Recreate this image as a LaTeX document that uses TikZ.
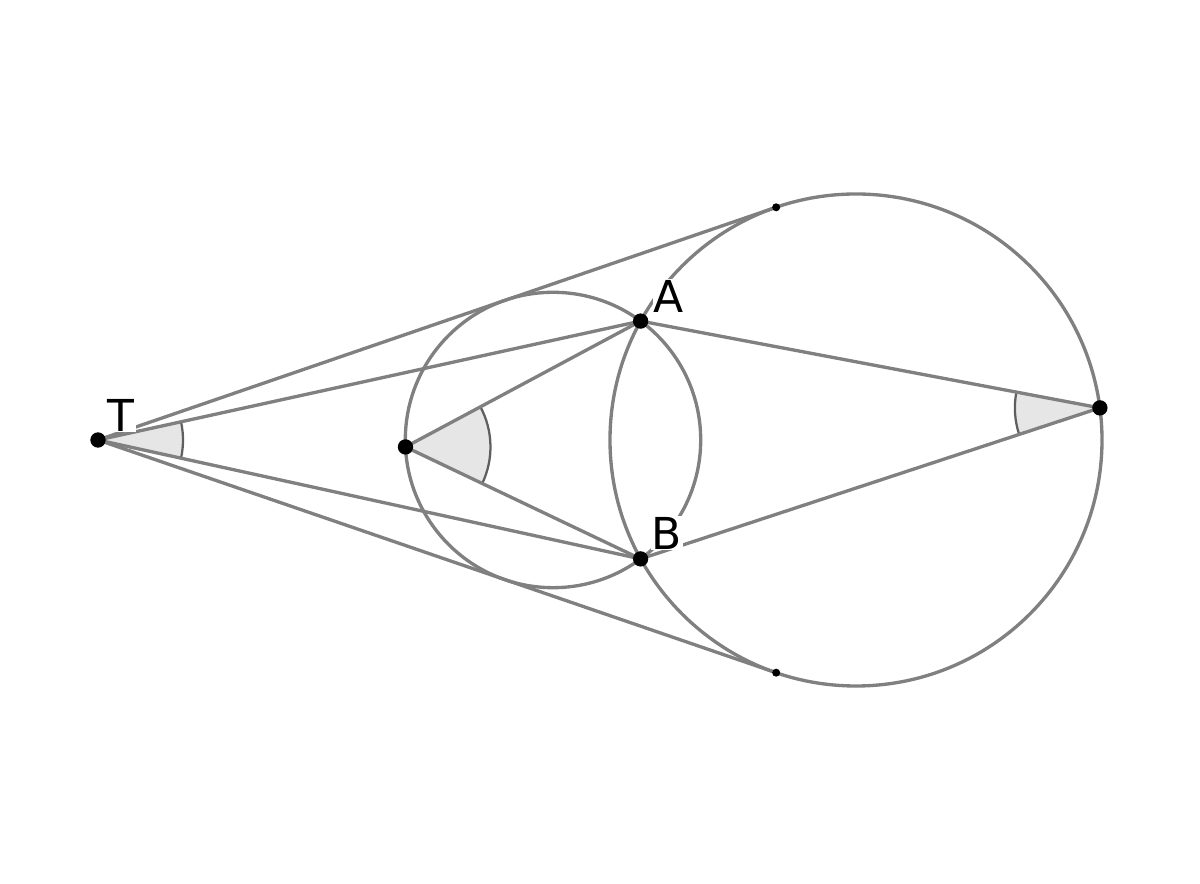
\documentclass[tikz,border=0pt]{standalone}
\usepackage{fontspec}
\setmainfont{DejaVu Sans}
\usepackage{xcolor}
\usetikzlibrary{angles,calc}

\definecolor{lineGray}{RGB}{128,128,128}
\definecolor{arcGray}{RGB}{95,95,95}
\definecolor{wedgeFill}{RGB}{230,230,230}

\tikzset{
  geoline/.style={draw=lineGray, line width=2.5pt},
  wedge/.style={fill=wedgeFill, draw=arcGray, line width=1.7pt, angle radius=63.75pt},
  bigdot/.style={circle, fill=black, inner sep=0pt, minimum size=11.5pt},
  smalldot/.style={circle, fill=black, inner sep=0pt, minimum size=6pt},
  ptlabel/.style={fill=white, inner sep=1pt, font=\fontsize{33}{37}\selectfont}
}

\begin{document}
\begin{tikzpicture}[x=0.75pt,y=0.75pt]
    \useasboundingbox (0,0) rectangle (1200,884);
    % centres and points
    \coordinate (C1) at (553,444);
    \coordinate (C2) at (856,444);
    \coordinate (T) at (98,444);
    \coordinate (A) at (640.6,562.9);
    \coordinate (B) at (640.6,325.1);
    \coordinate (P) at ($(C1)+(182.7:147.7)$);
    \coordinate (Q) at ($(C2)+(7.5:246)$);
    \coordinate (U) at ($(C2)+(108.94:246)$);
    \coordinate (D) at ($(C2)+(-108.94:246)$);
    % shaded angles
    \path pic [wedge] {angle = B--T--A};
    \path pic [wedge] {angle = B--P--A};
    \path pic [wedge] {angle = A--Q--B};
    % circles
    \draw [geoline] (C1) circle (147.7);
    \draw [geoline] (C2) circle (246);
    % lines
    \draw [geoline] (T) -- (U);
    \draw [geoline] (T) -- (D);
    \draw [geoline] (T) -- (A);
    \draw [geoline] (T) -- (B);
    \draw [geoline] (P) -- (A);
    \draw [geoline] (P) -- (B);
    \draw [geoline] (Q) -- (A);
    \draw [geoline] (Q) -- (B);
    % labels
    \node [ptlabel] (labT) at (121,469) {T};
    \node [ptlabel] (labA) at (669,588) {A};
    \node [ptlabel] (labB) at (667,351) {B};
    % points
    \node [bigdot] (dotT) at (T) {};
    \node [bigdot] (dotA) at (A) {};
    \node [bigdot] (dotB) at (B) {};
    \node [bigdot] (dotP) at (P) {};
    \node [bigdot] (dotQ) at (Q) {};
    \node [smalldot] (dotU) at (U) {};
    \node [smalldot] (dotD) at (D) {};
\end{tikzpicture}
\end{document}
